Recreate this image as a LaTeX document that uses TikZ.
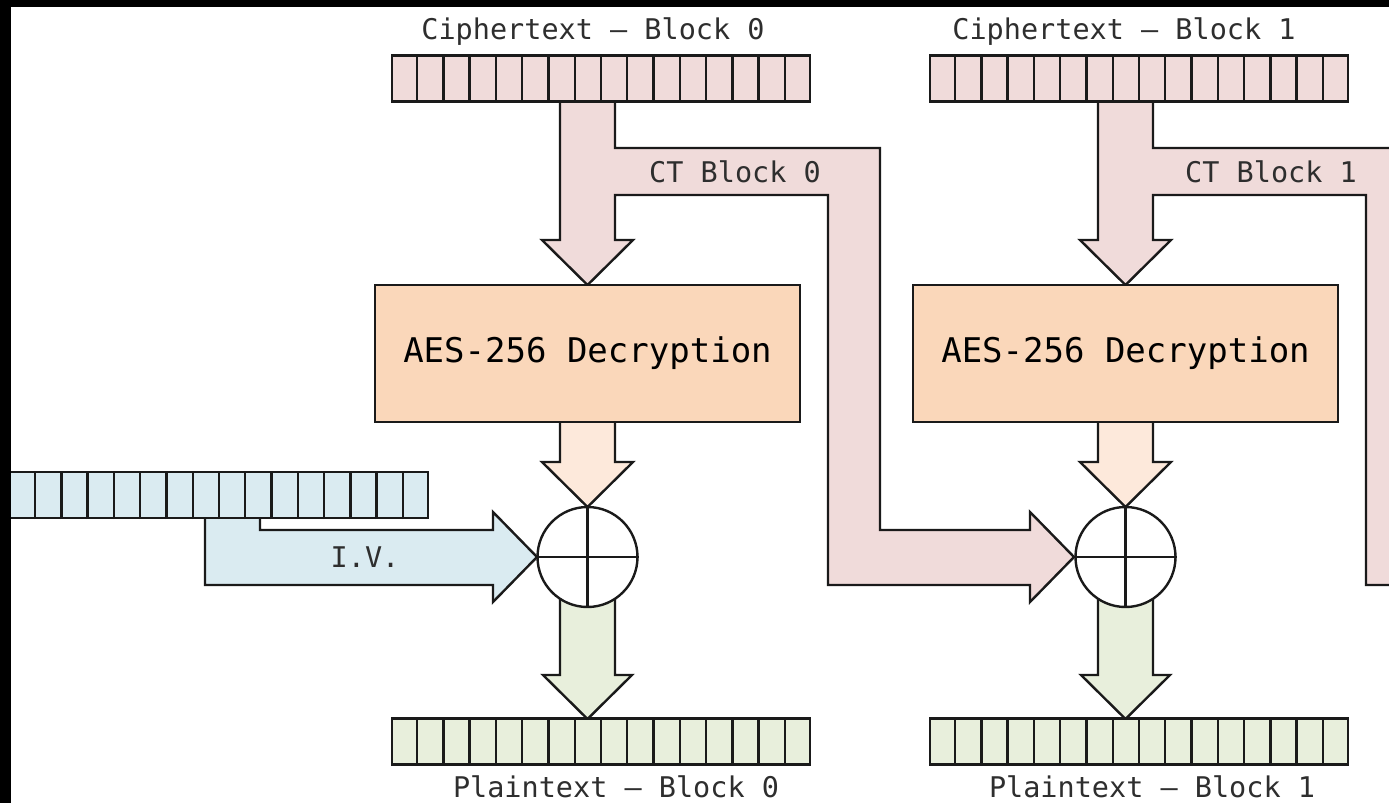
\documentclass[tikz,border=0pt]{standalone}
\usepackage{fontspec}
\newfontfamily\labelfont{DejaVu Sans Mono}
\usetikzlibrary{calc}
\definecolor{ctpink}{HTML}{F0DBDA}
\definecolor{aesfill}{HTML}{FAD7BA}
\definecolor{aesout}{HTML}{FDE9DB}
\definecolor{ivblue}{HTML}{DAEBF1}
\definecolor{ptgreen}{HTML}{E8EFDC}
\definecolor{linecol}{HTML}{1A1A1A}
\definecolor{txt}{HTML}{2E2E2E}
\tikzset{
  outline/.style={draw=linecol, line width=2.4pt, line join=miter},
  divider/.style={draw=linecol, line width=2.4pt},
  bar/.style={outline, rectangle, inner sep=0pt, minimum width=418pt, minimum height=46pt},
  aesbox/.style={outline, rectangle, fill=aesfill, inner sep=0pt, minimum width=425pt, minimum height=137pt,
    font=\labelfont\fontsize{34}{40}\selectfont, text=black},
  xorcircle/.style={outline, circle, fill=white, inner sep=0pt, minimum size=100pt},
  smalllabel/.style={font=\labelfont\fontsize{28.5}{34}\selectfont, text=txt, inner sep=0pt},
  blockarrow/.style={outline}
}
% split a register bar into 16 byte cells
\newcommand\cells[1]{%
  \foreach \k in {1,...,15}
    \draw[divider] ($(#1.south west)!\k/16!(#1.south east)$) -- ($(#1.north west)!\k/16!(#1.north east)$);}
\begin{document}
\begin{tikzpicture}[x=1pt, y=-1pt]
\useasboundingbox (0,0) rectangle (1389,803);
\fill[white] (0,0) rectangle (1389,803);
\begin{scope}
\clip (0,0) rectangle (1389,803);

% initialisation vector feeding the first XOR
\fill[blockarrow, fill=ivblue] (205,517) -- (205,585) -- (493,585) -- (493,602) -- (537,557)
  -- (493,512) -- (493,530) -- (260,530) -- (260,517) -- cycle;
\node[bar, fill=ivblue] (iv) at (219,495) {};
\cells{iv}
\node[smalllabel] (ivlabel) at (365,557) {I.V.};

\foreach \i/\ox/\tx/\px/\cx in {0/0/593/616/735, 1/538/1124/1152/1271} {
  \begin{scope}[shift={(\ox,0)}]
    % ciphertext block: down into AES, branch to the next XOR
    \fill[blockarrow, fill=ctpink] (560,100) -- (560,240) -- (542,240) -- (587.5,285) -- (633,240)
      -- (615,240) -- (615,195) -- (828,195) -- (828,585) -- (1030,585) -- (1030,602)
      -- (1074,557) -- (1030,512) -- (1030,530) -- (880,530) -- (880,148) -- (615,148)
      -- (615,100) -- cycle;
    % AES output into XOR
    \fill[blockarrow, fill=aesout] (560,420) -- (560,462) -- (542,462) -- (587.5,507) -- (633,462)
      -- (615,462) -- (615,420) -- cycle;
    % XOR output into plaintext
    \fill[blockarrow, fill=ptgreen] (560,580) -- (560,675) -- (543,675) -- (587.5,719) -- (632,675)
      -- (615,675) -- (615,580) -- cycle;
  \end{scope}
  \node[bar, fill=ctpink] (ct\i) at (601+\ox,78.5) {};
  \cells{ct\i}
  \node[smalllabel] (cttitle\i) at (\tx,32) {Ciphertext – Block \i};
  \node[smalllabel] (ctlabel\i) at (\cx,172) {CT Block \i};
  \node[aesbox] (aes\i) at (587.5+\ox,353.5) {AES-256 Decryption};
  \node[xorcircle] (xor\i) at (587.5+\ox,557) {};
  \draw[divider] (xor\i.north) -- (xor\i.south) (xor\i.west) -- (xor\i.east);
  \node[bar, fill=ptgreen] (pt\i) at (601+\ox,741.5) {};
  \cells{pt\i}
  \node[smalllabel] (pttitle\i) at (\px,787) {Plaintext – Block \i};
}
\end{scope}
% dark frame along the top and left edges
\fill[black] (0,0) rectangle (1389,7);
\fill[black] (0,0) rectangle (11,803);
\end{tikzpicture}
\end{document}
